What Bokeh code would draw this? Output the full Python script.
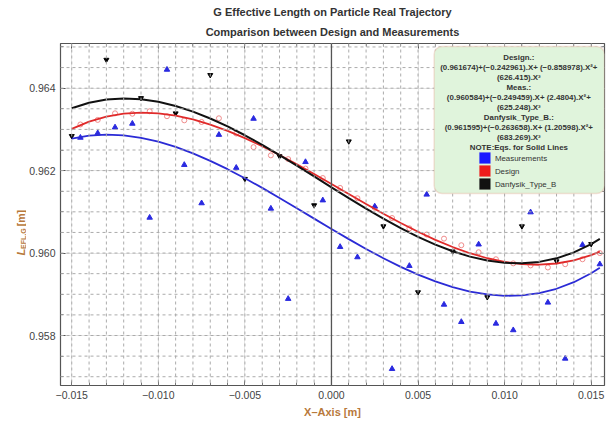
import math
from bokeh.plotting import figure
from bokeh.layouts import row
from bokeh.models import (Label, Span, BoxAnnotation, FixedTicker, LinearAxis,
                          Range1d, Title)
from bokeh.core.properties import value
from bokeh.embed import file_html
from bokeh.resources import INLINE

# ---------------- data ----------------
x_fit = [-0.015, -0.014, -0.013, -0.012, -0.011, -0.010, -0.009, -0.008, -0.007,
         -0.006, -0.005, -0.004, -0.003, -0.002, -0.001, 0.000, 0.001, 0.002,
         0.003, 0.004, 0.005, 0.006, 0.007, 0.008, 0.009, 0.010, 0.011, 0.012,
         0.013, 0.014, 0.015, 0.0155]
design_fit = [0.963011, 0.963188, 0.963311, 0.963383, 0.963409, 0.963391, 0.963334,
              0.963242, 0.963118, 0.962966, 0.962789, 0.962592, 0.962378, 0.962152,
              0.961916, 0.961674, 0.961431, 0.961190, 0.960954, 0.960729, 0.960516,
              0.960321, 0.960146, 0.959996, 0.959874, 0.959785, 0.959731, 0.959717,
              0.959747, 0.959823, 0.959951, 0.960034]
meas_fit = [0.962774, 0.962847, 0.962873, 0.962854, 0.962796, 0.962701, 0.962574,
            0.962418, 0.962237, 0.962035, 0.961815, 0.961582, 0.961338, 0.961088,
            0.960835, 0.960584, 0.960338, 0.960100, 0.959875, 0.959666, 0.959477,
            0.959312, 0.959174, 0.959067, 0.958996, 0.958963, 0.958972, 0.959028,
            0.959134, 0.959293, 0.959510, 0.959642]
danf_fit = [0.963515, 0.963648, 0.963725, 0.963752, 0.963732, 0.963669, 0.963568,
            0.963432, 0.963265, 0.963073, 0.962858, 0.962625, 0.962378, 0.962122,
            0.961859, 0.961595, 0.961333, 0.961078, 0.960833, 0.960603, 0.960392,
            0.960204, 0.960043, 0.959913, 0.959818, 0.959762, 0.959750, 0.959786,
            0.959872, 0.960015, 0.960218, 0.960343]

x_meas = [-0.0145, -0.0135, -0.0125, -0.0115, -0.0105, -0.0095, -0.0085, -0.0075,
          -0.0065, -0.0055, -0.0045, -0.0035, -0.0025, -0.0015, -0.0005, 0.0005,
          0.0015, 0.0025, 0.0035, 0.0045, 0.0055, 0.0065, 0.0075, 0.0085, 0.0095,
          0.0105, 0.0115, 0.0125, 0.0135, 0.0145, 0.0155]
y_meas = [0.96280, 0.96291, 0.96305, 0.96314, 0.96086, 0.96445, 0.96214, 0.96121,
          0.96287, 0.96207, 0.96326, 0.96108, 0.95889, 0.96221, 0.96128, 0.96015,
          0.95990, 0.96113, 0.95719, 0.95969, 0.96142, 0.95875, 0.95833, 0.96021,
          0.95829, 0.95813, 0.96099, 0.95880, 0.95744, 0.96020, 0.95973]

x_design = x_meas
y_design = [0.96312, 0.96323, 0.96339, 0.96338, 0.96344, 0.96332, 0.96322, 0.96318,
            0.96327, 0.96290, 0.96257, 0.96237, 0.96228, 0.96205, 0.96182, 0.96158,
            0.96133, 0.96110, 0.96085, 0.96060, 0.96045, 0.96035, 0.96019, 0.96002,
            0.95985, 0.95975, 0.95970, 0.95965, 0.95973, 0.95985, 0.96000]

x_danf = [-0.015, -0.013, -0.011, -0.009, -0.007, -0.005, -0.003, -0.001, 0.001,
          0.003, 0.005, 0.007, 0.009, 0.011, 0.013, 0.015]
y_danf = [0.96284, 0.96469, 0.96376, 0.96339, 0.96432, 0.96180, 0.96235, 0.96116,
          0.96271, 0.96065, 0.95905, 0.96004, 0.95893, 0.96065, 0.95980, 0.96022]

x_major = [-0.015, -0.010, -0.005, 0.000, 0.005, 0.010, 0.015]
x_labels = ["\u22120.015", "\u22120.010", "\u22120.005", "0.000", "0.005", "0.010", "0.015"]
y_major = [0.958, 0.960, 0.962, 0.964]
y_labels = ["0.958", "0.960", "0.962", "0.964"]

title1 = "G Effective Length on Particle Real Trajectory"
title2 = "Comparison between Design and Measurements"
x_title = "X\u2013Axis [m]"

# ---------------- layout constants ----------------
W, H = 608, 421
LW = 26                                    # width of the y-label strip
FL, FR, FT, FB = 58, 604, 43, 385          # frame edges in page pixels
X0, X1 = -0.01565, 0.01577
Y0, Y1 = 0.956787, 0.965084
FONT = "Liberation Sans"
LAB_COL = "#b8793c"

p = figure(width=W - LW, height=H, output_backend="svg", toolbar_location=None,
           x_range=Range1d(X0, X1), y_range=Range1d(Y0, Y1),
           min_border_left=FL - LW, min_border_right=W - FR,
           min_border_top=FT, min_border_bottom=H - FB,
           x_axis_location=None, y_axis_location=None)
p.background_fill_color = "white"
p.border_fill_color = "white"
p.outline_line_color = "#555555"
p.outline_line_width = 1.2


def px(xp):
    return X0 + (xp - FL) / (FR - FL) * (X1 - X0)


def py(yp):
    return Y1 - (yp - FT) / (FB - FT) * (Y1 - Y0)


x_minor = [round(-0.015 + 0.001 * i, 4) for i in range(31)]
y_minor = [round(0.957 + 0.0005 * i, 4) for i in range(17)]

for loc, dim in (("below", "x"), ("above", "x"), ("left", "y"), ("right", "y")):
    ax = LinearAxis()
    if dim == "x":
        ax.ticker = FixedTicker(ticks=x_major, minor_ticks=x_minor)
        labels, ticks = x_labels, x_major
    else:
        ax.ticker = FixedTicker(ticks=y_major, minor_ticks=y_minor)
        labels, ticks = y_labels, y_major
    if loc in ("below", "left"):
        ax.major_label_overrides = {t: l for t, l in zip(ticks, labels)}
        ax.major_label_text_font = FONT
        ax.major_label_text_font_size = "10.5px"
        ax.major_label_text_color = "#444444"
        ax.major_label_standoff = 5
    else:
        ax.major_label_overrides = {t: "" for t in ticks}
        ax.major_label_text_font_size = "1px"
        ax.major_label_standoff = 0
    if loc == "below":
        ax.axis_label = x_title
        ax.axis_label_text_font = FONT
        ax.axis_label_text_font_size = "11px"
        ax.axis_label_text_font_style = "bold"
        ax.axis_label_text_color = LAB_COL
        ax.axis_label_standoff = 4
    ax.axis_line_color = None
    ax.major_tick_in = 5
    ax.major_tick_out = 0
    ax.minor_tick_in = 3
    ax.minor_tick_out = 0
    ax.major_tick_line_color = "#555555"
    ax.minor_tick_line_color = "#777777"
    p.add_layout(ax, loc)

p.add_layout(Title(text=title2, align="center", text_font=FONT, text_font_size="11px",
                   text_font_style="bold", text_color="#333333", standoff=11), "above")
p.add_layout(Title(text=title1, align="center", text_font=FONT, text_font_size="11px",
                   text_font_style="bold", text_color="#333333", standoff=2), "above")

# dashed grid lines
for gx in x_minor:
    p.add_layout(Span(location=gx, dimension="height", line_color="#ababab",
                      line_dash="3 3", line_width=1))
for gy in y_minor:
    p.add_layout(Span(location=gy, dimension="width", line_color="#ababab",
                      line_dash="3 3", line_width=1))
p.add_layout(Span(location=0.0, dimension="height", line_color="#555555", line_width=1.3))

# points
p.scatter(x_design, y_design, marker="circle", size=5, fill_color=None,
          line_color="#f08c8c", line_width=1)
p.scatter(x_meas, y_meas, marker="triangle", size=5.5, fill_color="#2a2ae0",
          line_color="#2a2ae0")
p.scatter(x_danf, y_danf, marker="inverted_triangle", size=5, fill_color="black",
          line_color="black")

# fitted curves
p.line(x_fit, meas_fit, line_color="#2b2bd6", line_width=1.8)
p.line(x_fit, design_fit, line_color="#e02a2a", line_width=1.8)
p.line(x_fit, danf_fit, line_color="#111111", line_width=2)

# legend box
p.add_layout(BoxAnnotation(left=px(433), right=px(604), top=py(46), bottom=py(193),
                           fill_color="#e0f4dc", fill_alpha=1,
                           line_color="#e6a08c", line_width=1.5, border_radius=8))
leg_lines = [
    (57, "Design.:"),
    (67, "(0.961674)+(\u22120.242961).X+ (\u22120.858978).X\u00b2+"),
    (77, "(626.415).X\u00b3"),
    (87, "Meas.:"),
    (97, "(0.960584)+(\u22120.249459).X+ (2.4804).X\u00b2+"),
    (107, "(625.248).X\u00b3"),
    (117, "Danfysik_Type_B.:"),
    (127, "(0.961595)+(\u22120.263658).X+ (1.20598).X\u00b2+"),
    (137, "(683.269).X\u00b3"),
    (147, "NOTE:Eqs. for Solid Lines"),
]
for yy, t in leg_lines:
    p.add_layout(Label(x=px(518), y=py(yy), text=t, text_align="center",
                       text_baseline="middle", text_font=FONT,
                       text_font_size="7.9px", text_font_style="bold",
                       text_color="#333333"))
sw_y = [157.5, 170.5, 183.5]
sw_col = ["#1a1aff", "#ee1c1c", "#111111"]
sw_txt = ["Measurements", "Design", "Danfysik_Type_B"]
for yy, c, t in zip(sw_y, sw_col, sw_txt):
    p.add_layout(BoxAnnotation(left=px(478.5), right=px(489.5), top=py(yy - 5.5),
                               bottom=py(yy + 5.5), fill_color=c, fill_alpha=1,
                               line_color=c, line_width=0.5))
    p.add_layout(Label(x=px(494), y=py(yy), text=t, text_align="left",
                       text_baseline="middle", text_font=FONT,
                       text_font_size="7.9px", text_color="#333333"))

# ---------------- y-axis label strip ----------------
q = figure(width=LW, height=H, output_backend="svg", toolbar_location=None,
           x_range=Range1d(0, LW), y_range=Range1d(0, H),
           min_border=0, x_axis_location=None, y_axis_location=None)
q.outline_line_color = None
q.background_fill_color = "white"
q.border_fill_color = "white"
q.grid.visible = False
q.text(x=[20], y=[H - 261], text=["L"], angle=math.pi / 2, text_align="left",
       text_baseline="alphabetic", text_font=value(FONT), text_font_size="11.5px",
       text_font_style="bold italic", text_color=LAB_COL)
q.text(x=[23], y=[H - 253], text=["EFL,G"], angle=math.pi / 2, text_align="left",
       text_baseline="alphabetic", text_font=value(FONT), text_font_size="7px",
       text_font_style="bold", text_color=LAB_COL)
q.text(x=[20], y=[H - 225], text=["[m]"], angle=math.pi / 2, text_align="left",
       text_baseline="alphabetic", text_font=value(FONT), text_font_size="10.5px",
       text_font_style="bold", text_color=LAB_COL)

layout = row(q, p, spacing=0)
open("out.html", "w").write(file_html(layout, INLINE))
